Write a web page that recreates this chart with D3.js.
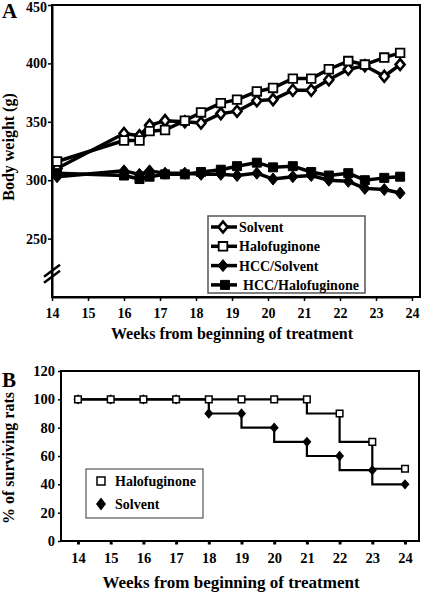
<!DOCTYPE html>
<html><head><meta charset="utf-8">
<script src="https://cdn.jsdelivr.net/npm/d3@7/dist/d3.min.js"></script>
<style>
html,body{margin:0;padding:0;background:#fff;}
text{font-family:"Liberation Serif","Times New Roman",serif;font-weight:bold;fill:#000;}
</style></head>
<body>
<script>
// ---------- Panel A data ----------
const weeksA = [14.14,16.0,16.43,16.71,17.14,17.69,18.14,18.69,19.14,19.69,20.14,20.69,21.2,21.69,22.23,22.69,23.23,23.67];
const solvent = [310,340,338,347,351,350,349,357,359,368,369,377,377,386,395,398,389,399];
const halofuginone = [316,334,334,342,343,351,358,366,369,376,379,387,387,395,402,399,405,409];
const hccSolvent = [303,308,305,308,306,306,305,305,304,306,301,303,304,300,299,293,292,289];
const hccHalofuginone = [306,304,301,303,305,305,307,309,312,315,311,312,307,304,306,300,302,303];
const seriesNamesA = ["Solvent","Halofuginone","HCC/Solvent","HCC/Halofuginone"];
const xTicksA = [14,15,16,17,18,19,20,21,22,23,24];
const yTicksA = [250,300,350,400,450];

// ---------- Panel B data ----------
const weeksB = [14,15,16,17,18,19,20,21,22,23,24];
const survHalo = [100,100,100,100,100,100,100,100,90,70,51];
const survSolvent = [100,100,100,100,90,90,80,70,60,50,40];
// step outlines of the survival curves (week, %)
const haloStepWeeks = [14,21,21,22,22,23,23,24];
const haloStepValues = [100,100,90,90,70,70,51,51];
const solventStepWeeks = [14,18,18,19,19,20,20,21,21,22,22,23,23,24];
const solventStepValues = [100,100,90,90,80,80,70,70,60,60,50,50,40,40];
const seriesNamesB = ["Halofuginone","Solvent"];
const yTicksB = [0,20,40,60,80,100,120];

const svg = d3.select("body").append("svg").attr("width",422).attr("height",592);

const diamondPath = (w,h)=>`M0,${-h}L${w},0L0,${h}L${-w},0Z`;
const squarePath = (s)=>`M${-s},${-s}H${s}V${s}H${-s}Z`;

// ================= PANEL A =================
const A = {l:52, t:5, r:420, b:297};
const xA = d3.scaleLinear().domain([14,24]).range([52,412]);
const yA = d3.scaleLinear().domain([200,450]).range([A.b,A.t]);

svg.append("rect").attr("x",A.l).attr("y",A.t).attr("width",A.r-A.l).attr("height",A.b-A.t)
  .attr("fill","none").attr("stroke","#000").attr("stroke-width",2);

const gxA = svg.append("g").attr("transform",`translate(0,${A.b})`)
  .call(d3.axisBottom(xA).tickValues(xTicksA).tickSize(4).tickSizeOuter(0).tickFormat(d3.format("d")));
gxA.select(".domain").attr("stroke-width",2);
gxA.selectAll(".tick line").attr("stroke-width",1.5);
gxA.selectAll(".tick text").attr("y",21).attr("dy",0).style("font-size","14px")
  .style("font-family",'"Liberation Serif",serif').style("font-weight","bold");

const gyA = svg.append("g").attr("transform",`translate(${A.l},0)`)
  .call(d3.axisLeft(yA).tickValues(yTicksA).tickSize(4).tickSizeOuter(0));
gyA.select(".domain").attr("stroke-width",2);
gyA.selectAll(".tick line").attr("stroke-width",1.5);
gyA.selectAll(".tick text").attr("x",-5).style("font-size","14px")
  .attr("dy",d=>d===450?"0.45em":"0.32em")
  .style("font-family",'"Liberation Serif",serif').style("font-weight","bold");

// axis break marks
const brk = svg.append("g").attr("transform",`translate(${A.l},${yA(220)})`);
[-3,3].forEach(o=>{
  brk.append("line").attr("x1",-8).attr("y1",6+o).attr("x2",8).attr("y2",-6+o)
    .attr("stroke","#000").attr("stroke-width",2.5);
});

const lineA = d3.line().x(d=>xA(d[0])).y(d=>yA(d[1]));
const seriesA = [
  {name:seriesNamesA[0], vals:solvent, shape:"diamond", fill:"#fff"},
  {name:seriesNamesA[2], vals:hccSolvent, shape:"diamond", fill:"#000"},
  {name:seriesNamesA[3], vals:hccHalofuginone, shape:"square", fill:"#000"},
  {name:seriesNamesA[1], vals:halofuginone, shape:"square", fill:"#fff"}
];
function markerA(sel, s){
  if(s.shape==="diamond"){
    sel.attr("d", s.fill==="#fff" ? diamondPath(4.5,5.5) : diamondPath(5,6))
      .attr("fill",s.fill).attr("stroke","#000").attr("stroke-width", s.fill==="#fff"?2.6:1);
  } else {
    sel.attr("d", s.fill==="#fff" ? squarePath(4.3) : squarePath(4.5))
      .attr("fill",s.fill).attr("stroke","#000").attr("stroke-width", s.fill==="#fff"?1.8:1);
  }
}
seriesA.forEach(s=>{
  const pts = weeksA.map((w,i)=>[w,s.vals[i]]);
  svg.append("path").datum(pts).attr("d",lineA).attr("fill","none")
    .attr("stroke","#000").attr("stroke-width",3.5).attr("stroke-linejoin","round");
  svg.append("g").selectAll("path").data(pts).join("path")
    .attr("transform",d=>`translate(${xA(d[0])},${yA(d[1])})`)
    .call(sel=>markerA(sel,s));
});

// Legend A
const legA = svg.append("g");
legA.append("rect").attr("x",208).attr("y",216).attr("width",157).attr("height",77)
  .attr("fill","#fff").attr("stroke","#555").attr("stroke-width",1.5);
const legOrder = [seriesA[0],seriesA[3],seriesA[1],seriesA[2]];
legOrder.forEach((s,i)=>{
  const cy = 227 + i*19.3;
  const g = legA.append("g").attr("transform",`translate(0,${cy})`);
  g.append("line").attr("x1",211).attr("x2",237).attr("y1",0).attr("y2",0)
    .attr("stroke","#000").attr("stroke-width",3.5);
  g.append("path").attr("transform",`translate(${i===3?225:223},0)`).call(sel=>markerA(sel,s));
  g.append("text").attr("x", i===3?243:239).attr("y",5).style("font-size","14px").text(s.name);
});

svg.append("text").attr("x",232).attr("y",339).attr("text-anchor","middle")
  .style("font-size","16px").text("Weeks from beginning of treatment");
svg.append("text").attr("transform","translate(14,147) rotate(-90)").attr("text-anchor","middle")
  .style("font-size","16px").text("Body weight (g)");
svg.append("text").attr("x",2).attr("y",18).style("font-size","21px").text("A");

// ================= PANEL B =================
const B = {l:61, t:371, r:419, b:541};
const xB = d3.scaleLinear().domain([14,24]).range([78,405]);
const yB = d3.scaleLinear().domain([0,120]).range([B.b,B.t]);

svg.append("rect").attr("x",B.l).attr("y",B.t).attr("width",B.r-B.l).attr("height",B.b-B.t)
  .attr("fill","none").attr("stroke","#000").attr("stroke-width",2);

const gxB = svg.append("g").attr("transform",`translate(0,${B.b})`)
  .call(d3.axisBottom(xB).tickValues(weeksB).tickSize(3.5).tickSizeOuter(0).tickFormat(d3.format("d")));
gxB.select(".domain").remove();
gxB.selectAll(".tick line").attr("stroke-width",3);
gxB.selectAll(".tick text").attr("y",22).attr("dy",0).style("font-size","14.5px")
  .style("font-family",'"Liberation Serif",serif').style("font-weight","bold");

const gyB = svg.append("g").attr("transform",`translate(${B.l},0)`)
  .call(d3.axisLeft(yB).tickValues(yTicksB).tickSize(3).tickSizeOuter(0));
gyB.select(".domain").remove();
gyB.selectAll(".tick line").attr("stroke-width",1.5);
gyB.selectAll(".tick text").attr("x",-6).style("font-size","14.5px")
  .style("font-family",'"Liberation Serif",serif').style("font-weight","bold");

const lineB = d3.line().x(d=>xB(d[0])).y(d=>yB(d[1]));
const solvSteps = solventStepWeeks.map((w,i)=>[w,solventStepValues[i]]);
const haloSteps = haloStepWeeks.map((w,i)=>[w,haloStepValues[i]]);
svg.append("path").datum(solvSteps).attr("d",lineB).attr("fill","none").attr("stroke","#000").attr("stroke-width",2.2);
svg.append("path").datum(haloSteps).attr("d",lineB).attr("fill","none").attr("stroke","#000").attr("stroke-width",2.2);

svg.append("g").selectAll("path").data(weeksB.map((w,i)=>[w,survSolvent[i]])).join("path")
  .attr("transform",d=>`translate(${xB(d[0])},${yB(d[1])})`)
  .attr("d",diamondPath(4.5,5.2)).attr("fill","#000");
svg.append("g").selectAll("path").data(weeksB.map((w,i)=>[w,survHalo[i]])).join("path")
  .attr("transform",d=>`translate(${xB(d[0])},${yB(d[1])})`)
  .attr("d",squarePath(3.3)).attr("fill","#fff").attr("stroke","#000").attr("stroke-width",1.5);

// Legend B
const legB = svg.append("g");
legB.append("rect").attr("x",86).attr("y",469).attr("width",117).attr("height",49)
  .attr("fill","#fff").attr("stroke","#555").attr("stroke-width",1.2);
legB.append("path").attr("transform","translate(101,481)").attr("d",squarePath(4))
  .attr("fill","#fff").attr("stroke","#000").attr("stroke-width",1.5);
legB.append("text").attr("x",115).attr("y",486).style("font-size","14px").text(seriesNamesB[0]);
legB.append("path").attr("transform","translate(101,504)").attr("d",diamondPath(5,6.5)).attr("fill","#000");
legB.append("text").attr("x",115).attr("y",509).style("font-size","14px").text(seriesNamesB[1]);

svg.append("text").attr("x",231).attr("y",588).attr("text-anchor","middle")
  .style("font-size","17px").text("Weeks from beginning of treatment");
svg.append("text").attr("transform","translate(14,458) rotate(-90)").attr("text-anchor","middle")
  .style("font-size","16px").text("% of surviving rats");
svg.append("text").attr("x",2).attr("y",387).style("font-size","21px").text("B");
</script>
</body></html>
